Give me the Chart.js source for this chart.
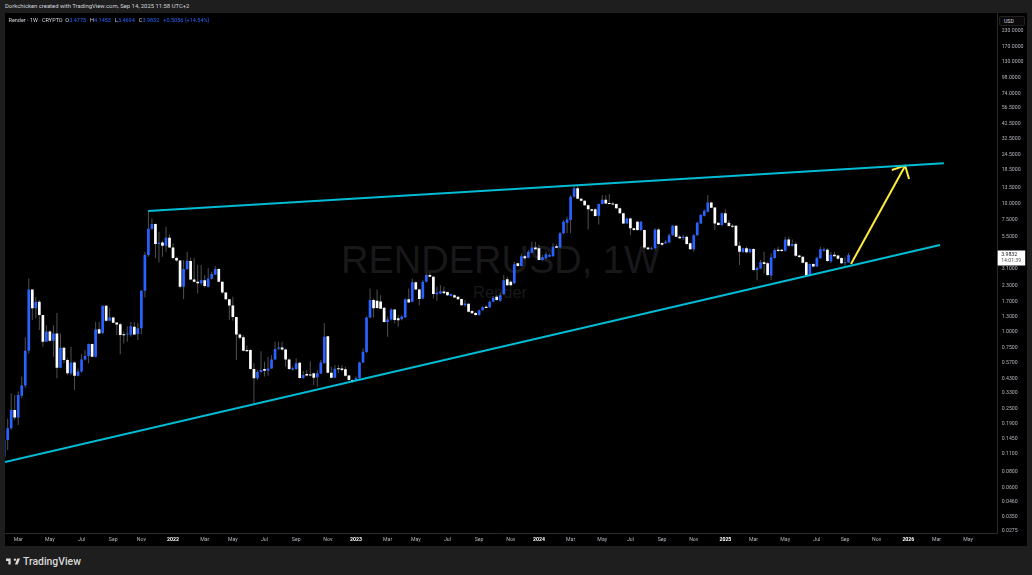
<!DOCTYPE html>
<html>
<head>
<meta charset="utf-8">
<title>Render 1W</title>
<script src="https://cdn.jsdelivr.net/npm/chart.js@4"></script>
<style>
  html, body { margin: 0; padding: 0; width: 1032px; height: 575px; overflow: hidden; background: #1e1e1e; }
  body { position: relative; font-family: Roboto, "Liberation Sans", sans-serif; }
  #credit { position: absolute; left: 5px; top: 3px; font-size: 5.9px; line-height: 7px; color: #d1d4dc; white-space: nowrap; }
  #panel { position: absolute; left: 5px; top: 13px; width: 1022px; height: 533px; background: #000; overflow: hidden; }
  #chart { position: absolute; left: 0; top: 0; }
  #wmMain { position: absolute; left: 336px; top: 226px; font: 38px "Liberation Sans", sans-serif; color: #18181a; white-space: nowrap; }
  #wmSub { position: absolute; left: 468px; top: 270px; font: 16.5px "Liberation Sans", sans-serif; color: #18181a; white-space: nowrap; }
  #legend { position: absolute; left: 3.5px; top: 3.5px; font-size: 5.5px; line-height: 7px; color: #d1d4dc; white-space: nowrap; }
  #legend b { font-weight: 400; color: #2962ff; margin-right: 4px; }
  #legend i { font-style: normal; color: #2962ff; }
  #unit { position: absolute; left: 994px; top: 3px; width: 26px; height: 10px; box-sizing: border-box; border: 1px solid #222; border-radius: 2px; background: #0a0a0a; color: #d1d4dc; font-size: 5.2px; line-height: 8px; padding-left: 4px; }
  #brand { position: absolute; left: 6px; top: 555px; height: 13px; display: flex; align-items: center; color: #d8d8d8; font: 500 10.4px Roboto, sans-serif; }
  #brand svg { width: 14px; height: 7px; margin-right: 3px; fill: #d8d8d8; }
</style>
</head>
<body>
<div id="credit">Dorkchicken created with TradingView.com, Sep 14, 2025 11:58 UTC+2</div>
<div id="panel">
  <div id="wmMain">RENDERUSD, 1W</div>
  <div id="wmSub">Render</div>
  <canvas id="chart" width="1022" height="533"></canvas>
  <div id="legend">Render · 1W · CRYPTO &nbsp;O<b>3.4775</b>H<b>4.1453</b>L<b>3.4694</b>C<b>3.9832</b><i>+0.5056 (+14.54%)</i></div>
  <div id="unit">USD</div>
</div>
<div id="brand">
  <svg viewBox="2 6 36 15"><path d="M14 6H2v6h6v9h6V6zm18 15h-7l6-15h7l-6 15zm-7-9a3 3 0 1 0 0-6 3 3 0 0 0 0 6z"/></svg>
  TradingView
</div>
<script>
// weekly candles
const opens = [.104,.141,.174,.242,.212,.314,.378,.707,2.14,1.52,1.71,1.35,.832,1,.847,.967,.52,.747,.598,.47,
  .573,.45,.487,.603,.642,.797,.635,1.04,.975,1.595,1.215,1.29,1.18,1.14,.95,.95,.945,1.09,.955,1.06,
  2.09,3.98,6.41,6.97,4.86,5,4.71,5.44,4.57,3.77,3.61,2.25,3.09,3.57,2.56,2.46,2.39,2.53,2.25,2.59,
  2.79,3.09,2.46,2.02,1.79,1.6,1.3,.95,.9,.716,.716,.508,.43,.482,.508,.493,.514,.603,.733,.75,
  .722,.603,.503,.508,.57,.432,.465,.46,.47,.438,.468,.563,.92,.476,.434,.513,.513,.507,.453,.417,
  .41,.43,.573,.69,1.29,1.77,1.74,1.72,1.54,1.19,1.245,1.49,1.27,1.25,1.29,1.79,1.71,2.43,2.14,1.82,
  2.46,2.77,2.69,1.97,1.99,2.06,2.04,1.9,1.93,1.875,1.8,1.61,1.65,1.45,1.4,1.35,1.47,1.565,1.55,1.71,
  1.875,1.74,1.97,2.57,2.46,2.39,3.43,3.27,3.9,3.79,4.15,4.57,4.5,3.64,3.75,3.86,3.9,4.66,4.57,5.89,
  7.13,7.49,11.4,13.3,11,10.6,9.8,9.1,9.1,8.1,10,10.8,10.2,10.1,10,9.25,8.45,7.05,7.7,6.45,
  7.27,6.25,6.25,4.57,4.41,4.5,6.3,4.95,4.92,5,5.7,6.76,5.55,5.42,5.55,4.92,4.41,5.7,7.05,8.1,
  8.7,10.3,9.4,7.13,6.85,8.45,7.13,6.76,6.76,4.71,4.2,4.5,4.18,4.44,3.04,3.12,3.5,3.43,2.75,3.77,
  4.38,4.38,4.31,5.28,4.71,4.86,3.95,3.86,3.5,2.78,3.39,3.23,3.75,4.31,4.38,3.55,4,3.95,3.77,3.43,3.4775];
const highs = [.142,.208,.328,.318,.338,.443,.9,2.61,2.14,1.875,1.77,1.35,1.12,1.03,1.12,1.4,.967,.76,.616,.76,
  .585,.513,.665,.716,.807,.807,1.19,1.19,1.6,1.61,1.52,1.31,1.19,1.17,.997,1.1,1.19,1.19,1.16,2.12,
  4.2,8.7,7.7,7.05,6.05,5.15,6.64,5.78,4.92,3.86,3.64,3.64,4.23,3.79,3.75,3.33,3.33,2.77,3.13,2.95,
  3.27,3.13,2.49,2.04,1.81,1.875,1.31,.967,.936,.777,.725,.563,.499,.7,.58,.635,.654,.83,.83,.83,
  .735,.616,.53,.616,.576,.49,.5,.585,.47,.499,.598,1.16,.925,.53,.546,.546,.546,.53,.456,.42,
  .443,.58,.738,1.31,2.18,1.82,2.14,1.93,1.56,1.31,1.52,1.49,1.35,1.35,1.82,2.18,2.61,2.46,2.18,2.53,
  2.89,2.89,2.72,2.25,2.31,2.25,2.06,1.99,1.96,1.9,1.82,1.77,1.66,1.47,1.43,1.49,1.58,1.61,1.74,1.9,
  1.93,2.02,2.77,2.69,2.53,3.53,3.47,4.1,3.98,4.36,5.07,5.07,4.77,3.98,4.23,4.1,4.92,4.86,6.07,7.49,
  7.96,11.7,13.9,13.9,11.2,10.7,9.9,9.2,9.25,10.1,11.7,11.7,12,10.4,10.1,9.4,8.55,7.85,7.85,6.55,
  7.4,7.35,6.3,4.63,4.63,6.45,6.45,5.07,5.22,5.89,6.85,6.85,5.7,5.78,5.6,5,5.82,7.27,8.35,9.1,
  11.7,10.4,9.5,7.2,8.55,9.1,7.5,6.95,6.85,5.07,4.55,4.63,4.5,4.5,3.23,3.64,4.23,3.53,4.1,4.5,
  4.63,4.41,5.55,5.55,5.28,5.07,4,3.9,3.55,3.43,3.43,3.86,4.63,4.57,4.5,4.23,4.23,3.98,3.82,3.86,4.1453];
const lows = [.103,.118,.169,.202,.185,.3,.362,.674,1.23,1.27,1.03,.76,.83,.83,.635,.43,.515,.563,.456,.456,
  .348,.443,.475,.592,.563,.63,.63,.955,.955,1.2,1.2,1.16,.94,.665,.807,.832,.91,.94,.857,.955,
  1.85,3.86,6.25,3.75,3.48,3.86,4.23,4.57,3.68,3.53,2.18,1.8,3.04,2.53,2.42,1.99,2.32,2.22,2.22,2.56,
  2.77,2.42,1.97,1.77,1.23,1.216,.598,.868,.7,.694,.499,.273,.417,.47,.443,.45,.508,.598,.716,.71,
  .53,.499,.493,.499,.427,.427,.443,.443,.38,.37,.464,.563,.47,.43,.43,.47,.484,.443,.412,.397,
  .405,.428,.563,.68,1.27,1.29,1.5,1.52,1.175,.91,1.22,1.16,1.09,1.22,1.29,1.69,1.69,2.12,1.61,1.8,
  2.42,2.66,1.82,1.74,1.97,1.99,1.9,1.875,1.83,1.77,1.6,1.565,1.41,1.38,1.33,1.33,1.46,1.52,1.53,1.69,
  1.74,1.71,1.93,2.28,2.28,2.36,3.23,3.23,3.68,3.75,4.1,4.36,3.6,3.6,3.68,3.82,3.86,4.5,4.5,5.82,
  5.89,5.89,11.2,10.9,10.4,9.7,6.3,8.7,7.96,6.9,9.9,10,9.9,9.8,9.15,8.35,6.97,6.97,5.7,6.15,
  6.15,6.15,4.44,4.36,4.36,4.4,4.77,4.68,4.86,4.92,5.64,5.49,5.32,5.22,4.77,4.38,4.25,5.64,6.97,8,
  8.6,9.25,6.25,6.75,6.75,7.05,6.64,6.45,4.66,3.33,4.15,4.12,4.12,3,2.53,3.08,2.86,2.72,2.53,3.72,
  4.23,4.2,4.23,4.63,4.63,3.86,3.77,3.43,2.72,2.74,3.19,3.19,3.7,4.23,3.53,3.47,3.86,3.68,3.38,3.27,3.4694];
const closes = [.141,.174,.242,.212,.318,.378,.707,2.14,1.52,1.71,1.35,.832,1,.847,.967,.52,.747,.598,.47,.573,
  .45,.487,.603,.642,.797,.635,1.04,.967,1.595,1.215,1.29,1.17,1.138,.94,.935,.96,1.1,.95,1.06,2.09,
  3.98,6.41,6.97,4.86,4.97,4.71,5.44,4.57,3.77,3.61,2.25,3.09,3.57,2.56,2.46,2.39,2.53,2.28,2.61,2.83,
  3.09,2.46,2.02,1.79,1.6,1.3,.95,.895,.707,.7,.508,.43,.482,.499,.493,.514,.603,.728,.75,.722,
  .603,.508,.516,.563,.432,.457,.453,.453,.435,.47,.573,.911,.476,.434,.51,.505,.499,.45,.417,.405,
  .43,.573,.695,1.29,1.77,1.52,1.53,1.51,1.19,1.245,1.49,1.23,1.225,1.31,1.79,1.69,2.43,2.14,1.8,2.46,
  2.77,2.69,1.97,2.02,2.07,2,1.93,1.97,1.85,1.79,1.61,1.66,1.43,1.39,1.35,1.47,1.55,1.53,1.71,1.84,
  1.77,1.93,2.53,2.31,2.31,3.37,3.27,3.9,3.75,4.23,4.57,4.41,3.64,3.82,4.03,3.98,4.63,4.55,5.89,7.27,
  7.58,11.4,13.3,11,10.6,9.8,9.1,8.85,8.05,10,10.8,10.1,10,9.9,9.25,8.45,7.05,7.7,6.45,6.25,
  6.25,7.27,4.57,4.41,4.5,6.3,4.86,4.8,5.07,5.7,6.76,5.55,5.38,5.55,4.86,4.41,5.7,7.13,8.2,8.85,
  10.3,9.35,7.05,6.85,8.45,7.13,6.72,6.64,4.71,4.23,4.5,4.18,4.44,3.04,3.15,3.5,3.38,2.78,3.82,4.36,
  4.28,4.28,5.28,4.71,4.86,3.93,3.84,3.47,2.76,3.39,3.23,3.79,4.41,4.41,3.57,4,3.9,3.72,3.43,3.5,3.9832];

// price axis
const priceTicks = [230,170,130,98,74,56.5,42.5,32.5,24.5,18.5,13.5,10,7.5,5.5,3.1,2.3,1.7,1.3,1,.75,.57,.43,.33,.25,.19,.145,.11,.08,.06,.046,.035,.0275];

// time axis: candle number of the first week of each month shown
const timeTickAt = [4,13,22,31,39,48,57,65,74,83,92,100,109,117,126,135,144,152,161,170,178,187,196,205,213,222,231,239,248,257,265,274];
const timeTickText = ["Mar","May","Jul","Sep","Nov","2022","Mar","May","Jul","Sep","Nov","2023","Mar","May","Jul","Sep","Nov","2024","Mar","May","Jul","Sep","Nov","2025","Mar","May","Jul","Sep","Nov","2026","Mar","May"];

// drawings on the chart
const upperLine = [{x: 40.9, y: 8.81}, {x: 267.1, y: 20.9}];
const lowerLine = [{x: .24, y: .0948}, {x: 266, y: 4.77}];
const arrowShaft = [{x: 240.7, y: 3.38}, {x: 256.1, y: 20}];
const arrowHead = [{x: 252.3, y: 18.5}, {x: 256.1, y: 20}, {x: 257.2, y: 15.7}];
const lastPrice = "3.9832";
const countdown = "14:01:39";

const BLUE = "#2962ff";
const WHITE = "#ffffff";
const CYAN = "#00bcd4";
const YELLOW = "#ffeb3b";

const bodies = opens.map((o, i) => ({x: i, y: [o, closes[i]]}));
const wicks = lows.map((l, i) => ({x: i, y: [l, highs[i]]}));

function lineSet(data, color) {
  return {type: "line", data: data, borderColor: color, borderWidth: 2, pointRadius: 0, tension: 0, order: 1};
}

// white price tag on the axis
const priceTag = {
  id: "priceTag",
  afterDraw(chart) {
    const ctx = chart.ctx;
    const y = chart.scales.y.getPixelForValue(closes[closes.length - 1]);
    const left = chart.chartArea.right;
    ctx.save();
    ctx.fillStyle = "#ffffff";
    ctx.fillRect(left, y - 4.5, 27.5, 15);
    ctx.fillStyle = "#131722";
    ctx.font = "5.2px Roboto";
    ctx.textBaseline = "middle";
    ctx.fillText(lastPrice, left + 3.5, y - 0.5);
    ctx.fillStyle = "#555";
    ctx.fillText(countdown, left + 3.5, y + 6);
    ctx.restore();
  }
};

new Chart(document.getElementById("chart"), {
  type: "bar",
  data: {
    datasets: [
      lineSet(upperLine, CYAN),
      lineSet(lowerLine, CYAN),
      lineSet(arrowShaft, YELLOW),
      lineSet(arrowHead, YELLOW),
      {data: bodies, grouped: false, barThickness: 2.7, inflateAmount: 0, minBarLength: 1, order: 2,
        backgroundColor: bodies.map(b => b.y[1] >= b.y[0] ? BLUE : WHITE)},
      {data: wicks, grouped: false, barThickness: 1, inflateAmount: 0, order: 3, backgroundColor: "#505050"}
    ]
  },
  options: {
    responsive: false,
    animation: false,
    layout: {padding: 0, autoPadding: false},
    plugins: {legend: {display: false}, tooltip: {enabled: false}},
    scales: {
      x: {
        type: "linear",
        offset: false,
        min: .24,
        max: 282.4,
        grid: {display: false, drawTicks: false},
        border: {display: true, color: "#2a2a2a"},
        afterFit: s => { s.height = 13; s.paddingLeft = 0; s.paddingRight = 0; },
        afterBuildTicks: s => { s.ticks = timeTickAt.map(v => ({value: v})); },
        ticks: {
          autoSkip: false,
          maxRotation: 0,
          padding: 4,
          color: ctx => /^20/.test(timeTickText[ctx.index]) ? "#ffffff" : "#b2b5be",
          font: ctx => ({family: "Roboto", size: 5.2, weight: /^20/.test(timeTickText[ctx.index]) ? "700" : "400"}),
          callback: (v, i) => timeTickText[i]
        }
      },
      y: {
        type: "logarithmic",
        position: "right",
        bounds: "data",
        min: .0263,
        max: 315,
        grid: {display: false, drawTicks: false},
        border: {display: true, color: "#2a2a2a"},
        afterFit: s => { s.width = 29.3; s.paddingTop = 0; s.paddingBottom = 0; },
        afterBuildTicks: s => { s.ticks = priceTicks.map(v => ({value: v})); },
        ticks: {
          autoSkip: false,
          padding: 4,
          color: "#b2b5be",
          font: {family: "Roboto", size: 5.2},
          callback: v => Number(v).toFixed(4)
        }
      }
    }
  },
  plugins: [priceTag]
});
</script>
</body>
</html>
